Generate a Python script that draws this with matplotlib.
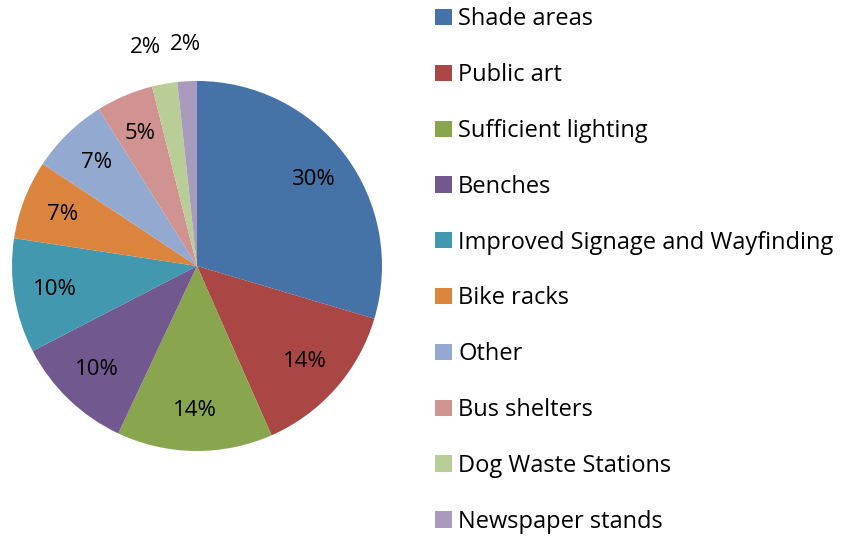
import numpy as np
import matplotlib
matplotlib.use("Agg")
import matplotlib.pyplot as plt

# -------------------- Data --------------------
labels = ["Shade areas", "Public art", "Sufficient lighting", "Benches",
          "Improved Signage and Wayfinding", "Bike racks", "Other",
          "Bus shelters", "Dog Waste Stations", "Newspaper stands"]
shares = [29.6, 13.8, 13.6, 10.4, 10.0, 6.9, 6.8, 5.0, 2.2, 1.7]
colors = ["#4572A7", "#AA4643", "#89A54E", "#71588F", "#4198AF",
          "#DB843D", "#93A9CF", "#D19392", "#B9CD96", "#A99BBD"]

plt.rcParams['font.family'] = ['Open Sans', 'DejaVu Sans']

fig = plt.figure(figsize=(8.5, 5.36), dpi=100)
# pie centred at (197, 266) px, radius 185 px
ax = fig.add_axes([12 / 850, 85 / 536, 370 / 850, 370 / 536])

wedges, texts, autotexts = ax.pie(
    shares, colors=colors, startangle=90, counterclock=False,
    autopct=lambda p: f"{p:.0f}%", pctdistance=0.78, radius=1,
    textprops={'fontsize': 16, 'color': 'black'})
ax.set_xlim(-1, 1)
ax.set_ylim(-1, 1)
ax.axis('off')

# small slices get their labels outside
for w, t in zip(wedges[-2:], autotexts[-2:]):
    ang = np.deg2rad((w.theta1 + w.theta2) / 2)
    t.set_position((1.2 * np.cos(ang), 1.2 * np.sin(ang)))
autotexts[-2].set_x(autotexts[-2].get_position()[0] - 0.07)

leg = fig.legend(wedges, labels, loc='upper left', bbox_to_anchor=(426 / 850, 1.0 + 2 / 536),
                 frameon=False, fontsize=17, handlelength=0.68, handleheight=0.68,
                 handletextpad=0.28, labelspacing=1.347, borderaxespad=0.0)

fig.savefig("out.png", dpi=100)
